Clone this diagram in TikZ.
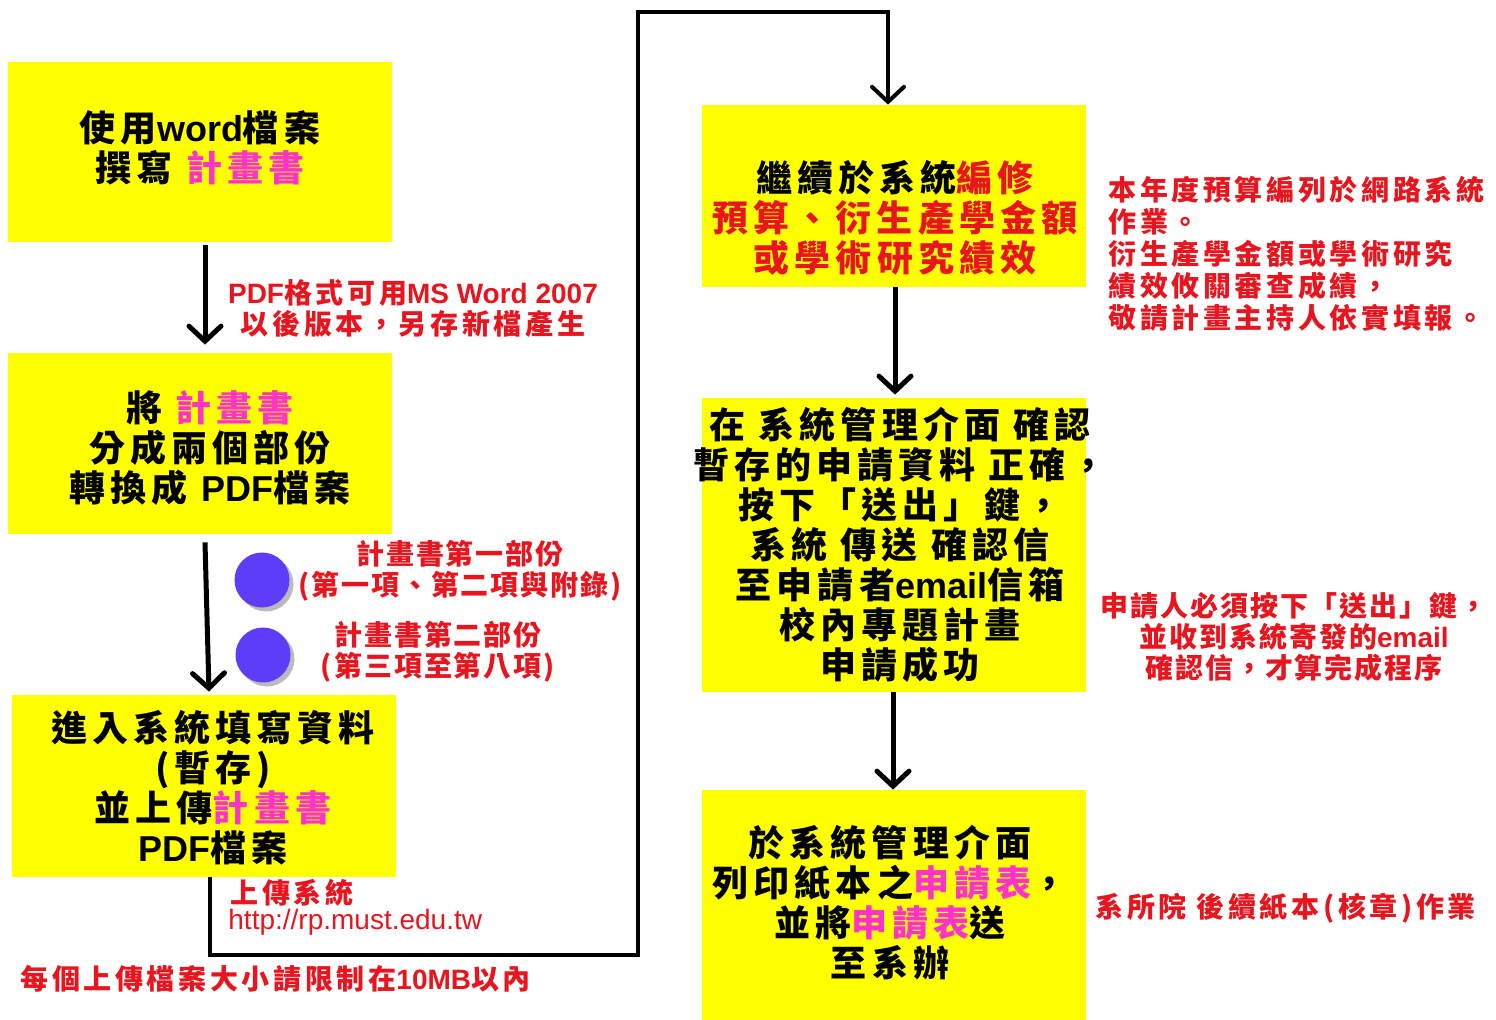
\documentclass[tikz,border=0pt]{standalone}
\usepackage{fontspec}
\usetikzlibrary{arrows.meta,shadows}
\setmainfont{Noto Sans CJK TC}[LetterSpace=14]
\newfontfamily\anf{Noto Sans CJK TC}[LetterSpace=13]
\newfontfamily\anfs{Noto Sans CJK TC}[LetterSpace=7]
\newfontfamily\latf{Liberation Sans}
\newcommand\lat[1]{{\latf #1}}
\definecolor{yel}{HTML}{FFFF00}
\definecolor{rd}{HTML}{E8141E}
\definecolor{mg}{HTML}{FF33CC}
\definecolor{bl}{HTML}{5E3CF8}
\tikzset{
  ybox/.style={fill=yel, draw=none, inner sep=0pt},
  btxt/.style={align=center, inner sep=0pt, font=\bfseries\fontsize{18}{20}\selectfont},
  ann/.style={text=rd, inner sep=0pt, font=\anf\bfseries\fontsize{14}{15.5}\selectfont},
  anns/.style={ann, font=\anfs\bfseries\fontsize{14}{15.5}\selectfont},
  arr/.style={line width=2.5pt, -{Straight Barb[length=7.5pt,width=16pt,line cap=round]}},
  conn/.style={line width=2pt, -{Straight Barb[length=7.5pt,width=16pt,line cap=round]}},
  dot/.style={circle, fill=bl, minimum size=27.5pt, inner sep=0pt,
    drop shadow={shadow xshift=2pt, shadow yshift=-2pt, opacity=0.45, fill=black!60}}
}
\begin{document}
\begin{tikzpicture}[x=0.5pt,y=-0.5pt]
\useasboundingbox (0,0) rectangle (1496,1020);
% boxes
\node[ybox, minimum width=192pt, minimum height=90pt] (b1) at (200,152) {};
\node[ybox, minimum width=192pt, minimum height=90.5pt] (b2) at (200,443.5) {};
\node[ybox, minimum width=192pt, minimum height=91pt] (b3) at (204,786) {};
\node[ybox, minimum width=192pt, minimum height=91pt] (b4) at (894,196) {};
\node[ybox, minimum width=192pt, minimum height=147pt] (b5) at (894,545) {};
\node[ybox, minimum width=192pt, minimum height=115pt] (b6) at (894,905) {};
% box texts
\node[btxt] (t1) at (200,148) {使用\lat{word}檔案\\撰寫 \textcolor{mg}{計畫書}};
\node[btxt] (t2) at (210,448) {將 \textcolor{mg}{計畫書}\\分成兩個部份\\轉換成 \lat{PDF}檔案};
\node[btxt] (t3) at (213,788) {進入系統填寫資料\\(暫存)\\並上傳\textcolor{mg}{計畫書}\\\lat{PDF}檔案};
\node[btxt] (t4) at (895,218) {繼續於系統\textcolor{rd}{編修}\\\textcolor{rd}{預算、衍生產學金額}\\\textcolor{rd}{或學術研究績效}};
\node[btxt] (t5) at (900,545) {在 系統管理介面 確認\\暫存的申請資料 正確，\\按下「送出」鍵，\\系統 傳送 確認信\\至申請者\lat{email}信箱\\校內專題計畫\\申請成功};
\node[btxt] (t6) at (890,903) {於系統管理介面\\列印紙本之\textcolor{mg}{申請表}，\\並將\textcolor{mg}{申請表}送\\至系辦};
% arrows
\draw[arr] ([xshift=2.5pt,yshift=-1.5pt]b1.south) -- ([xshift=2.5pt,yshift=4pt]b2.north);
\draw[arr] ([xshift=2.5pt,yshift=-4pt]b2.south) -- ([xshift=2.5pt,yshift=1.5pt]b3.north);
\draw[arr] ([xshift=0.5pt]b4.south) -- ([xshift=0.5pt,yshift=1.5pt]b5.north);
\draw[arr] ([xshift=-0.5pt]b5.south) -- ([xshift=-0.5pt]b6.north);
\coordinate (p2) at (638,955);
\coordinate (p4) at (888,12);
\draw[conn] ([xshift=3pt]b3.south) |- (p2) |- (p4) -- ([xshift=-3pt]b4.north);
% dots
\node[dot] (c1) at (262,580) {};
\node[dot] (c2) at (263,655) {};
% annotations
\node[ann, align=center] (a1) at (413,308) {\lat{PDF}格式可用\lat{MS Word 2007}\\以後版本，另存新檔產生};
\node[anns, align=center] (a2) at (460,571) {計畫書第一部份\\(第一項、第二項與附錄)};
\node[anns, align=center] (a3) at (438,652) {計畫書第二部份\\(第三項至第八項)};
\node[ann, anchor=west] (u1) at (230,893) {上傳系統};
\node[ann, anchor=west, font=\latf\fontsize{14}{15.5}\selectfont] (u2) at (228,922) {http://rp.must.edu.tw};
\node[ann, anchor=west] (s1) at (20,979) {每個上傳檔案大小請限制在\lat{10MB}以內};
\node[ann, anchor=west, align=left, font=\anf\bfseries\fontsize{14}{16}\selectfont] (a4) at (1108,254) {本年度預算編列於網路系統\\作業。\\衍生產學金額或學術研究\\績效攸關審查成績，\\敬請計畫主持人依實填報。};
\node[anns, align=center] (a5) at (1294,637) {申請人必須按下「送出」鍵，\\並收到系統寄發的\lat{email}\\確認信，才算完成程序};
\node[ann, anchor=west] (a6) at (1095,908) {系所院 後續紙本(核章)作業};
\end{tikzpicture}
\end{document}
